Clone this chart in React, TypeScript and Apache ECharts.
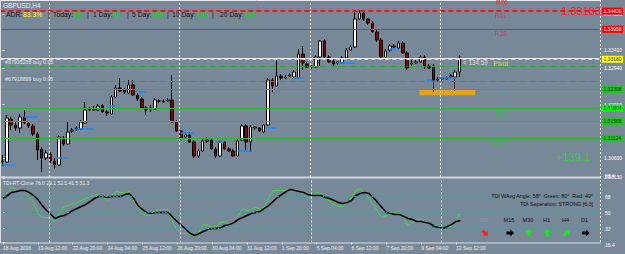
import React, { useEffect, useRef } from "react";
import * as echarts from "echarts";

// ---------------- DATA ----------------
const TIME_LABELS = [
  "18 Aug 2016", "19 Aug 12:00", "22 Aug 20:00", "24 Aug 04:00", "25 Aug 12:00",
  "26 Aug 20:00", "30 Aug 04:00", "31 Aug 12:00", "1 Sep 20:00", "5 Sep 04:00",
  "6 Sep 12:00", "7 Sep 20:00", "9 Sep 04:00", "12 Sep 12:00",
];
const TIME_LABEL_BARS = [0, 8, 16, 24, 32, 40, 48, 56, 64, 72, 80, 88, 96, 104];

const OPEN = [
  1.30534, 1.30508, 1.31626, 1.3147, 1.31392, 1.31678, 1.31522, 1.31444, 1.31236, 1.30846,
  1.30612, 1.30716, 1.30534, 1.3043, 1.31132, 1.30976, 1.31314, 1.31366, 1.31366, 1.31522,
  1.3186, 1.31886, 1.3186, 1.31964, 1.31808, 1.31756, 1.32198, 1.32432, 1.3238, 1.32302,
  1.3251, 1.3225, 1.32146, 1.31912, 1.31886, 1.31886, 1.32094, 1.32094, 1.32094, 1.3212,
  1.31548, 1.31314, 1.31158, 1.3121, 1.31028, 1.30664, 1.30794, 1.31054, 1.3108, 1.30846,
  1.30664, 1.31028, 1.30846, 1.30794, 1.30664, 1.3108, 1.31444, 1.31028, 1.31392, 1.31392,
  1.31288, 1.3147, 1.3264, 1.32484, 1.32744, 1.32692, 1.32744, 1.32718, 1.32692, 1.33316,
  1.33056, 1.32978, 1.32978, 1.33238, 1.33654, 1.33238, 1.33134, 1.33082, 1.33082, 1.33212,
  1.3342, 1.33498, 1.34226, 1.34382, 1.34226, 1.34122, 1.33888, 1.3368, 1.33238, 1.3342,
  1.33524, 1.33472, 1.33602, 1.33342, 1.33056, 1.33082, 1.33108, 1.33238, 1.33004, 1.33004,
  1.32666, 1.32666, 1.32666, 1.32718, 1.32718, 1.32848,
];
const CLOSE = [
  1.30508, 1.31652, 1.3147, 1.31392, 1.31678, 1.31522, 1.31444, 1.31236, 1.3082, 1.30612,
  1.30742, 1.30534, 1.3043, 1.31158, 1.30976, 1.31288, 1.3134, 1.31392, 1.31548, 1.3186,
  1.31886, 1.3186, 1.31964, 1.31808, 1.31782, 1.32198, 1.32432, 1.32354, 1.32328, 1.3251,
  1.3225, 1.32146, 1.31912, 1.3186, 1.31912, 1.3212, 1.32094, 1.32068, 1.3212, 1.31548,
  1.31314, 1.31132, 1.3121, 1.31028, 1.30664, 1.30794, 1.31054, 1.3108, 1.30846, 1.30664,
  1.31028, 1.30846, 1.30794, 1.30664, 1.31054, 1.31444, 1.31028, 1.31418, 1.31418, 1.31314,
  1.3147, 1.3264, 1.32484, 1.32744, 1.32692, 1.32718, 1.3277, 1.32848, 1.33316, 1.33082,
  1.32978, 1.33004, 1.33238, 1.33654, 1.33238, 1.33108, 1.33056, 1.33108, 1.33212, 1.3342,
  1.33498, 1.34226, 1.34382, 1.34226, 1.34122, 1.33888, 1.3368, 1.33238, 1.33394, 1.33524,
  1.33498, 1.33602, 1.33342, 1.32952, 1.33082, 1.33108, 1.33238, 1.32978, 1.32952, 1.3264,
  1.3264, 1.32692, 1.32692, 1.32744, 1.32848, 1.33212,
];
const HIGH = [
  1.3069, 1.3173, 1.31678, 1.31548, 1.31756, 1.3186, 1.31574, 1.31496, 1.31288, 1.30898,
  1.3082, 1.30768, 1.30612, 1.3121, 1.31184, 1.31574, 1.31392, 1.31444, 1.316, 1.32068,
  1.31938, 1.31964, 1.32016, 1.32016, 1.3186, 1.3225, 1.3251, 1.32692, 1.32432, 1.3264,
  1.3264, 1.32302, 1.32198, 1.31964, 1.3199, 1.32172, 1.32146, 1.32146, 1.32172, 1.3277,
  1.316, 1.3134, 1.31262, 1.31288, 1.3108, 1.30846, 1.31106, 1.31158, 1.31132, 1.30898,
  1.3108, 1.31054, 1.30898, 1.30846, 1.31106, 1.31496, 1.31496, 1.3147, 1.31444, 1.31418,
  1.31496, 1.32692, 1.32692, 1.33186, 1.32796, 1.3277, 1.32822, 1.329, 1.33446, 1.33524,
  1.33108, 1.3303, 1.3329, 1.3368, 1.33706, 1.3329, 1.33186, 1.33134, 1.33264, 1.33472,
  1.3355, 1.3446, 1.3446, 1.34408, 1.34252, 1.34174, 1.3394, 1.33732, 1.33446, 1.33576,
  1.33576, 1.33654, 1.33654, 1.33394, 1.3316, 1.33186, 1.3329, 1.3329, 1.33056, 1.33056,
  1.32718, 1.32718, 1.32744, 1.32796, 1.329, 1.3329,
];
const LOW = [
  1.30404, 1.30482, 1.3134, 1.31314, 1.31262, 1.31496, 1.31392, 1.31184, 1.3056, 1.30248,
  1.3056, 1.30482, 1.30326, 1.30404, 1.30924, 1.3095, 1.31262, 1.31314, 1.3134, 1.31496,
  1.31834, 1.31834, 1.31834, 1.31782, 1.31704, 1.3173, 1.32172, 1.32328, 1.32276, 1.32276,
  1.32224, 1.32094, 1.31886, 1.3173, 1.31808, 1.3186, 1.32042, 1.32042, 1.32068, 1.31522,
  1.31288, 1.3108, 1.31132, 1.31002, 1.30612, 1.30612, 1.30768, 1.31002, 1.3082, 1.30612,
  1.30638, 1.3082, 1.30768, 1.30638, 1.30638, 1.31054, 1.3082, 1.30768, 1.3134, 1.31288,
  1.31262, 1.31444, 1.32328, 1.32458, 1.3264, 1.32666, 1.32718, 1.32692, 1.32666, 1.329,
  1.32952, 1.32926, 1.32952, 1.33004, 1.33212, 1.33082, 1.33004, 1.3303, 1.33056, 1.33186,
  1.33394, 1.33472, 1.342, 1.34174, 1.3407, 1.33862, 1.33628, 1.33186, 1.33212, 1.33368,
  1.33472, 1.33446, 1.33316, 1.329, 1.33004, 1.33056, 1.33082, 1.32926, 1.32926, 1.32328,
  1.32588, 1.32614, 1.3264, 1.32692, 1.32354, 1.32718,
];

const TDI_GREEN = [
  65.9, 72.7, 78.3, 76.0, 74.9, 74.9, 68.2, 61.4, 49.0, 44.5,
  44.5, 43.4, 40.0, 50.2, 56.9, 58.0, 60.3, 61.4, 63.7, 65.9,
  68.2, 69.3, 70.4, 67.0, 63.7, 69.3, 73.8, 72.7, 71.5, 73.8,
  63.7, 55.8, 49.0, 46.8, 46.8, 52.4, 53.5, 53.5, 53.5, 38.9,
  29.9, 26.5, 26.5, 25.4, 23.2, 27.7, 36.7, 35.5, 33.3, 34.4,
  38.9, 40.0, 36.7, 41.2, 46.8, 54.7, 52.4, 53.5, 55.8, 54.7,
  55.8, 67.0, 74.9, 74.9, 74.9, 74.9, 73.8, 74.9, 73.8, 70.4,
  67.0, 69.3, 72.7, 71.5, 67.0, 62.5, 59.2, 56.9, 56.9, 61.4,
  67.0, 74.9, 77.2, 72.7, 65.9, 59.2, 51.3, 44.5, 46.8, 49.0,
  50.2, 49.0, 43.4, 35.5, 38.9, 42.3, 42.3, 40.0, 37.8, 35.5,
  33.3, 32.2, 33.3, 34.4, 41.2, 51.3,
];
const TDI_BLACK = [
  65.9, 69.3, 72.7, 73.8, 74.9, 74.9, 72.7, 69.3, 64.8, 58.0,
  52.4, 47.9, 43.4, 45.7, 46.8, 49.0, 52.4, 54.7, 56.9, 59.2,
  62.5, 65.9, 68.2, 68.2, 67.0, 68.2, 68.2, 68.2, 70.4, 71.5,
  65.9, 58.0, 53.5, 50.2, 49.0, 50.2, 50.2, 50.2, 50.2, 44.5,
  40.0, 35.5, 31.0, 26.5, 24.3, 26.5, 28.8, 31.0, 32.2, 32.2,
  33.3, 35.5, 36.7, 38.9, 42.3, 44.5, 46.8, 49.0, 50.2, 51.3,
  54.7, 58.0, 62.5, 67.0, 70.4, 73.8, 76.0, 74.9, 73.8, 72.7,
  70.4, 69.3, 69.3, 69.3, 67.0, 65.9, 63.7, 61.4, 60.3, 61.4,
  63.7, 69.3, 71.5, 72.7, 71.5, 67.0, 61.4, 55.8, 50.2, 49.0,
  47.9, 47.9, 45.7, 43.4, 42.3, 40.0, 40.0, 38.9, 37.8, 34.4,
  33.3, 32.2, 34.4, 36.7, 40.0, 41.2,
];
const TDI_LEVELS = [68, 50, 32];
const TDI_AXIS_LABELS = [88.4, 68, 50, 32, 16.4];
const TDI_HEADER = "TDI-RT-Clone 76.0 29.1 52.5 41.5 51.3";
const TDI_INFO = ["TDI WAvg Angle: 58°  Green: 80°  Red: 49°", "TDI Seperation: STRONG [6.3]"];
const TIMEFRAMES = ["M5", "M15", "M30", "H1", "H4", "D1"];
const TIMEFRAME_TREND = ["down", "flat", "up", "up", "upRight", "flat"];

const PRICE_TICKS = [1.3435, 1.3341, 1.3294, 1.32, 1.306, 1.3013];
const LEVEL_NAMES = ["R61", "R38", "Pivot", "S38", "S61", "S78", "S100"];
const LEVEL_VALUES = [1.3443, 1.33958, 1.3318, 1.32398, 1.31904, 1.31566, 1.31124];
const ORDER_TICKETS = ["#67935238 buy 0.05", "#67918899 buy 0.05"];
const ORDER_PRICES = [1.32996, 1.32614];
const WEEK_START_BARS = [11, 41, 71, 101];
const BLUE_SEGMENTS = [
  [0, 3, 1.3043], [5, 8, 1.31678], [12, 15, 1.30612], [17, 21, 1.31366], [24, 26, 1.31964],
  [31, 33, 1.32328], [41, 44, 1.31262], [49, 51, 1.31028], [54, 57, 1.30794], [61, 63, 1.31392],
  [67, 69, 1.32692], [77, 81, 1.33082], [89, 91, 1.33446], [97.5, 98.8, 1.3264], [100.3, 104.2, 1.32692],
];
const ZONE = [95.8, 108.6, 1.32398, 1.32242];
const ADR_PARTS = ["ADR:", "83.3%", "|", "Today:", "92", "|", "1 Day:", "96", "|", "5 Day:", "109", "|", "10 Day:", "106", "|", "20 Day:", "114"];
const ADR_KIND = ["k", "y", "k", "k", "g", "k", "k", "g", "k", "k", "g", "k", "k", "g", "k", "k", "g"];
const SYMBOL_TITLE = "GBPUSD,H4";
const BID_DISPLAY = "1.33183";
const PROFIT_DISPLAY = "+139.1";
const COUNTDOWN = "< 134:59";
const UPPER_LABEL = "R76";

// ---------------- LAYOUT / STYLE ----------------
const FONT = "'Liberation Sans', Arial, sans-serif";
const X_MIN = -0.5;
const X_MAX = 137.16;
const PRICE_MIN = 1.30118;
const PRICE_MAX = 1.34668;
const LABEL_BAR = 114.5;
const LEVEL_STYLE = [
  { line: "#ff1010", width: 2, type: [5, 3], box: "#ff0000", boxText: "#ffffff", text: "#d83030", dy: 4 },
  { line: "#d42a2a", width: 1, type: "solid", box: "#ff0000", boxText: "#ffffff", text: "#d83030", dy: 4 },
  { line: "#e8e800", width: 1, type: [4, 3], box: "#ffff00", boxText: "#333333", text: "#f2f200", dy: 4.5 },
  { line: "#2cb82c", width: 1, type: "solid", box: "#22c422", boxText: "#0c3c0c", text: "#2ec42e", dy: 4.5 },
  { line: "#2cb82c", width: 1, type: "solid", box: "#00ff00", boxText: "#0c3c0c", text: "#2ec42e", dy: 4 },
  { line: "#2cb82c", width: 1, type: "solid", box: "#22c422", boxText: "#0c3c0c", text: "#2ec42e", dy: -4 },
  { line: "#2cb82c", width: 1, type: "solid", box: "#22c422", boxText: "#0c3c0c", text: "#2ec42e", dy: 4.5 },
];
const ADR_X = [6, 23, 48, 53, 74, 87, 93, 113, 127, 132, 152, 167, 172, 197, 212, 220, 245];
const ADR_COLOR: Record<string, string> = { k: "#141414", y: "#ffff00", g: "#00e000" };
const TF_X = [484, 509, 528, 546.5, 565.5, 584.5];
const TREND_STYLE: Record<string, { rot: number; color: string }> = {
  down: { rot: -Math.PI / 4, color: "#ff2020" },
  flat: { rot: 0, color: "#000000" },
  up: { rot: Math.PI / 2, color: "#22e022" },
  upRight: { rot: Math.PI / 4, color: "#22e022" },
};

echarts.graphic.registerShape(
  "tfArrow",
  echarts.graphic.extendPath("M-4,-1.6L0.4,-1.6L0.4,-4L4.5,0L0.4,4L0.4,1.6L-4,1.6Z", {})
);

function txt(x: number, y: number, s: string, color: string, size: number, align = "left") {
  return {
    type: "text",
    x,
    y,
    z: 100,
    silent: true,
    style: {
      text: s,
      fill: color,
      fontSize: size,
      fontFamily: FONT,
      textAlign: align,
      align,
      textVerticalAlign: "middle",
      verticalAlign: "middle",
    },
  };
}

export default function App() {
  const ref = useRef<HTMLDivElement>(null);

  useEffect(() => {
    if (!ref.current) return;
    const chart = echarts.init(ref.current, undefined, { renderer: "svg" });

    const candles = OPEN.map((o, i) => [i, o, CLOSE[i], LOW[i], HIGH[i]]);
    const lastClose = CLOSE[CLOSE.length - 1];

    const mainMarkLines: any[] = [];
    ORDER_PRICES.forEach((p) => {
      mainMarkLines.push({ yAxis: p, lineStyle: { color: "#22b022", width: 1, type: [5, 2, 1, 2] } });
    });
    mainMarkLines.push({ yAxis: lastClose, lineStyle: { color: "#ececec", width: 1, type: "solid" } });
    LEVEL_VALUES.forEach((v, i) => {
      const s = LEVEL_STYLE[i];
      mainMarkLines.push({
        yAxis: v,
        lineStyle: { color: s.line, width: s.width, type: s.type },
        label: {
          show: true,
          position: "end",
          formatter: v.toFixed(5),
          backgroundColor: s.box,
          color: s.boxText,
          fontSize: 5,
          fontFamily: FONT,
          padding: [1.2, 1.5, 0.8, 1.5],
          distance: 2.5,
        },
      });
    });
    WEEK_START_BARS.forEach((k) => {
      mainMarkLines.push({ xAxis: k - 0.3, lineStyle: { color: "#ffffff", width: 1, type: [2, 2] } });
    });
    BLUE_SEGMENTS.forEach(([a, b, p]) => {
      mainMarkLines.push([
        { coord: [a, p], lineStyle: { color: "#1e88ff", width: 1.5, type: "solid" } },
        { coord: [b, p] },
      ]);
    });

    const tdiMarkLines: any[] = [];
    TDI_LEVELS.forEach((v) => {
      tdiMarkLines.push({ yAxis: v, lineStyle: { color: "#3a9e9e", width: 1, type: [1.5, 2] } });
    });
    WEEK_START_BARS.forEach((k) => {
      tdiMarkLines.push({ xAxis: k - 0.3, lineStyle: { color: "#ffffff", width: 1, type: [2, 2] } });
    });

    const graphics: any[] = [
      { type: "line", z: 90, silent: true, shape: { x1: 0, y1: 0.5, x2: 601, y2: 0.5 }, style: { stroke: "#e8ecf0", lineWidth: 1 } },
      { type: "line", z: 90, silent: true, shape: { x1: 0.5, y1: 0, x2: 0.5, y2: 243 }, style: { stroke: "#d8dde2", lineWidth: 1 } },
      { type: "line", z: 90, silent: true, shape: { x1: 0, y1: 177.6, x2: 601, y2: 177.6 }, style: { stroke: "#d0d6dc", lineWidth: 2 } },
      { type: "line", z: 90, silent: true, shape: { x1: 0, y1: 243, x2: 601, y2: 243 }, style: { stroke: "#d8dde2", lineWidth: 1 } },
      { type: "line", z: 90, silent: true, shape: { x1: 600.5, y1: 0, x2: 600.5, y2: 243 }, style: { stroke: "#ffffff", lineWidth: 1, lineDash: [2, 2] } },
      txt(3, 5, SYMBOL_TITLE, "#f0f0f0", 6.5),
      txt(502, 2, UPPER_LABEL, "#d83030", 6.5, "center"),
      txt(5, 62, ORDER_TICKETS[0], "#e2e6ea", 5.3),
      txt(5, 78.5, ORDER_TICKETS[1], "#e2e6ea", 5.3),
      txt(463, 62, COUNTDOWN, "#dcdcdc", 6.3),
      txt(601, 10.5, BID_DISPLAY, "#ff1a1a", 11, "right"),
      txt(590, 157, PROFIT_DISPLAY, "#3cc83c", 11, "right"),
      txt(3, 182.5, TDI_HEADER, "#ececec", 5),
      txt(593, 196, TDI_INFO[0], "#101010", 5.3, "right"),
      txt(593, 204, TDI_INFO[1], "#101010", 5.3, "right"),
    ];
    ADR_PARTS.forEach((s, i) => {
      graphics.push(txt(ADR_X[i], 14, s, ADR_COLOR[ADR_KIND[i]], 6.8));
    });
    TIMEFRAMES.forEach((tf, i) => {
      graphics.push(txt(TF_X[i], 220, tf, i === 0 ? "#8e9aa8" : "#101010", 5.6, "center"));
      const st = TREND_STYLE[TIMEFRAME_TREND[i]];
      graphics.push({
        type: "tfArrow",
        x: TF_X[i] + 1,
        y: 233,
        rotation: st.rot,
        scaleX: 0.9,
        scaleY: 0.9,
        z: 100,
        silent: true,
        style: { fill: st.color },
      });
    });

    const option: any = {
      animation: false,
      backgroundColor: "#778899",
      textStyle: { fontFamily: FONT },
      grid: [
        { left: 0.32, top: 2, width: 600.2, height: 175 },
        { left: 0.32, top: 178.5, width: 600.2, height: 64 },
      ],
      xAxis: [
        { type: "value", gridIndex: 0, min: X_MIN, max: X_MAX, show: false },
        {
          type: "value",
          gridIndex: 1,
          min: X_MIN,
          max: X_MAX,
          axisLine: { show: false },
          splitLine: { show: false },
          axisTick: { show: true, customValues: TIME_LABEL_BARS, length: 2, lineStyle: { color: "#e8e8e8" } },
          axisLabel: {
            customValues: TIME_LABEL_BARS,
            formatter: (v: number) => {
              const idx = TIME_LABEL_BARS.indexOf(Math.round(v));
              return idx >= 0 ? TIME_LABELS[idx] : "";
            },
            color: "#f6f6f6",
            fontSize: 5,
            align: "left",
            margin: 2.5,
          },
        },
      ],
      yAxis: [
        {
          type: "value",
          gridIndex: 0,
          position: "right",
          min: PRICE_MIN,
          max: PRICE_MAX,
          splitLine: { show: false },
          axisLine: { show: false },
          axisTick: { show: true, customValues: PRICE_TICKS, length: 2, lineStyle: { color: "#e8e8e8" } },
          axisLabel: {
            customValues: PRICE_TICKS,
            formatter: (v: number) => v.toFixed(5),
            color: "#ffffff",
            fontSize: 5,
            margin: 4.5,
          },
        },
        {
          type: "value",
          gridIndex: 1,
          position: "right",
          min: 16.4,
          max: 88.4,
          splitLine: { show: false },
          axisLine: { show: false },
          axisTick: { show: true, customValues: TDI_AXIS_LABELS, length: 2, lineStyle: { color: "#e8e8e8" } },
          axisLabel: {
            customValues: TDI_AXIS_LABELS,
            formatter: (v: number) => (Number.isInteger(v) ? String(v) : v.toFixed(1)),
            color: "#ffffff",
            fontSize: 5,
            margin: 4.5,
            verticalAlignMaxLabel: "top",
            verticalAlignMinLabel: "bottom",
          },
        },
      ],
      series: [
        {
          type: "candlestick",
          xAxisIndex: 0,
          yAxisIndex: 0,
          data: candles,
          barWidth: 3,
          silent: true,
          itemStyle: {
            color: "#ffffff",
            color0: "#8b0000",
            borderColor: "#000000",
            borderColor0: "#000000",
            borderWidth: 1,
          },
          markLine: {
            silent: true,
            symbol: ["none", "none"],
            precision: 6,
            animation: false,
            label: { show: false },
            data: mainMarkLines,
          },
          markArea: {
            silent: true,
            itemStyle: { color: "#e8a21a", opacity: 1 },
            label: { show: false },
            data: [[{ coord: [ZONE[0], ZONE[2]] }, { coord: [ZONE[1], ZONE[3]] }]],
          },
        },
        {
          type: "scatter",
          xAxisIndex: 0,
          yAxisIndex: 0,
          symbolSize: 0,
          clip: false,
          silent: true,
          z: 5,
          label: { show: true, position: "inside", formatter: "{b}", fontSize: 6.5, fontFamily: FONT },
          data: LEVEL_NAMES.map((n, i) => ({
            name: n,
            value: [LABEL_BAR, LEVEL_VALUES[i]],
            label: { color: LEVEL_STYLE[i].text, offset: [0, LEVEL_STYLE[i].dy] },
          })),
        },
        {
          type: "line",
          xAxisIndex: 1,
          yAxisIndex: 1,
          data: TDI_GREEN.map((v, i) => [i, v]),
          showSymbol: false,
          silent: true,
          lineStyle: { color: "#3ee03a", width: 1 },
          markLine: {
            silent: true,
            symbol: ["none", "none"],
            precision: 6,
            animation: false,
            label: { show: false },
            data: tdiMarkLines,
          },
        },
        {
          type: "line",
          xAxisIndex: 1,
          yAxisIndex: 1,
          data: TDI_BLACK.map((v, i) => [i, v]),
          showSymbol: false,
          silent: true,
          lineStyle: { color: "#000000", width: 1.6 },
        },
      ],
      graphic: graphics,
    };

    chart.setOption(option);
    return () => chart.dispose();
  }, []);

  return (
    <div
      ref={ref}
      style={{ position: "fixed", left: 0, top: 0, width: 625, height: 254, background: "#778899" }}
    />
  );
}
